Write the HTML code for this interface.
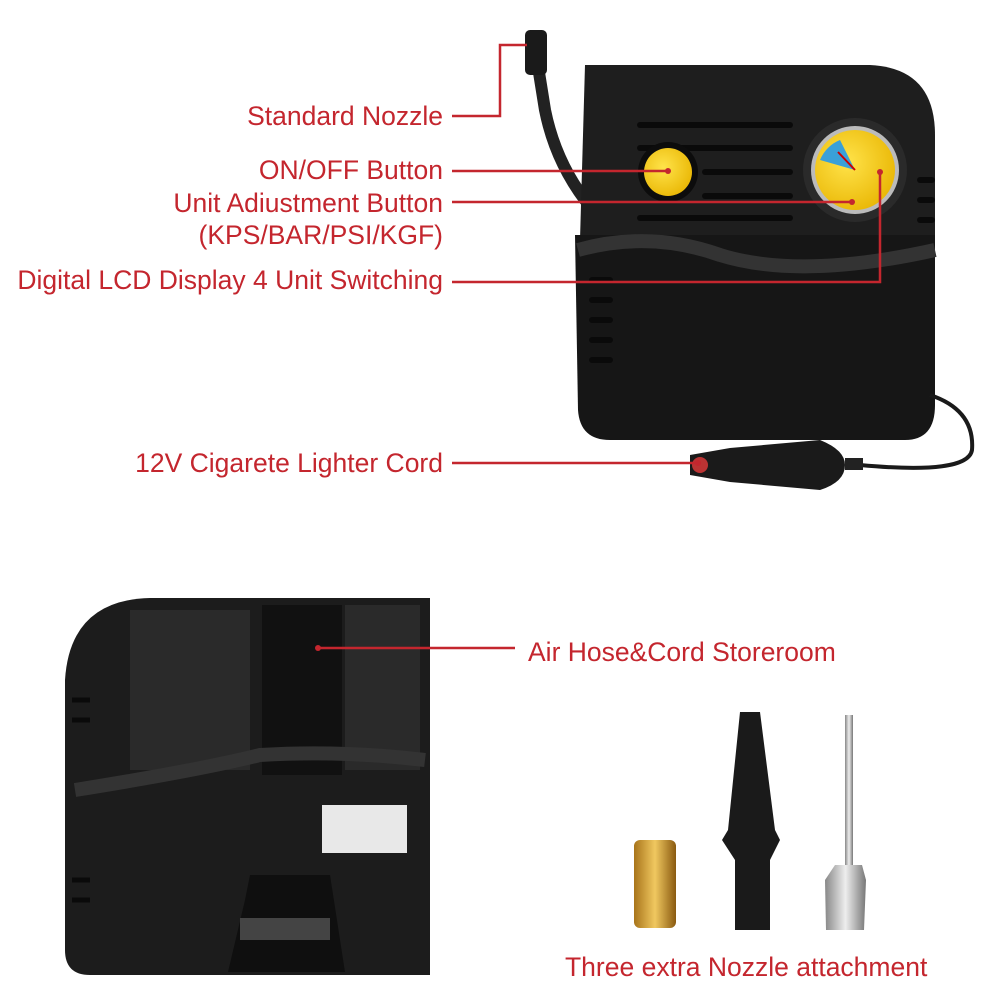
<!DOCTYPE html>
<html><head><meta charset="utf-8"><style>
html,body{margin:0;padding:0;background:#fff;}
svg{display:block;}
text{font-family:"Liberation Sans",sans-serif;fill:#c4262e;font-size:26.5px;}
</style></head><body>
<svg width="1000" height="1000" viewBox="0 0 1000 1000" xmlns="http://www.w3.org/2000/svg">
<defs>
<radialGradient id="y" cx="0.4" cy="0.4" r="0.7"><stop offset="0" stop-color="#ffe34a"/><stop offset="1" stop-color="#e8b400"/></radialGradient>
<linearGradient id="brass" x1="0" x2="1"><stop offset="0" stop-color="#a8741a"/><stop offset="0.5" stop-color="#f0c860"/><stop offset="1" stop-color="#8a5a10"/></linearGradient>
<linearGradient id="met" x1="0" x2="1"><stop offset="0" stop-color="#888"/><stop offset="0.5" stop-color="#eee"/><stop offset="1" stop-color="#777"/></linearGradient>
</defs>
<!-- Top device -->
<path d="M537 60 L545 110 Q555 160 585 200" fill="none" stroke="#222" stroke-width="12" stroke-linecap="round"/>
<rect x="525" y="30" width="22" height="45" rx="5" fill="#1a1a1a"/>
<path d="M585 65 L870 65 Q935 68 935 135 L935 240 L580 240 Z" fill="#1e1e1e"/>
<path d="M575 235 L935 235 L935 405 Q935 440 905 440 L610 440 Q580 440 578 410 Z" fill="#161616"/>
<path d="M578 250 Q650 230 720 255 Q800 280 935 250" fill="none" stroke="#333" stroke-width="14"/>
<g stroke="#0a0a0a" stroke-width="6" stroke-linecap="round">
<line x1="640" y1="125" x2="790" y2="125"/><line x1="640" y1="148" x2="790" y2="148"/>
<line x1="705" y1="172" x2="790" y2="172"/><line x1="705" y1="196" x2="790" y2="196"/>
<line x1="640" y1="218" x2="790" y2="218"/>
<line x1="592" y1="280" x2="610" y2="280"/><line x1="592" y1="300" x2="610" y2="300"/><line x1="592" y1="320" x2="610" y2="320"/><line x1="592" y1="340" x2="610" y2="340"/><line x1="592" y1="360" x2="610" y2="360"/>
<line x1="920" y1="180" x2="932" y2="180"/><line x1="920" y1="200" x2="932" y2="200"/><line x1="920" y1="220" x2="932" y2="220"/>
</g>
<circle cx="668" cy="172" r="30" fill="#0c0c0c"/>
<circle cx="668" cy="172" r="24" fill="url(#y)"/>
<circle cx="855" cy="170" r="52" fill="#2a2a2a"/>
<circle cx="855" cy="170" r="44" fill="#bbb"/>
<circle cx="855" cy="170" r="40" fill="url(#y)"/>
<path d="M820 160 A36 36 0 0 1 840 140 L855 170 Z" fill="#3aa0d8"/>
<line x1="855" y1="170" x2="838" y2="152" stroke="#c00" stroke-width="2"/>
<path d="M930 395 Q975 410 972 450 Q968 475 860 465" fill="none" stroke="#1a1a1a" stroke-width="4"/>
<path d="M690 455 L730 448 L820 440 Q845 450 845 465 Q845 482 820 490 L730 482 L690 475 Z" fill="#1a1a1a"/>
<rect x="845" y="458" width="18" height="12" fill="#222"/>
<circle cx="700" cy="465" r="8" fill="#b33"/>
<!-- Bottom device -->
<path d="M65 680 Q70 600 150 598 L430 598 L430 975 L90 975 Q65 975 65 950 Z" fill="#1c1c1c"/>
<rect x="130" y="610" width="120" height="160" fill="#2a2a2a"/>
<rect x="345" y="605" width="75" height="165" fill="#2a2a2a"/>
<rect x="262" y="605" width="80" height="170" fill="#111"/>
<path d="M75 790 Q200 770 260 755 Q340 750 425 760" fill="none" stroke="#333" stroke-width="14"/>
<rect x="322" y="805" width="85" height="48" fill="#e8e8e8"/>
<path d="M228 972 L245 900 L250 875 L330 875 L345 972 Z" fill="#0f0f0f"/>
<rect x="240" y="918" width="90" height="22" fill="#444"/>
<g stroke="#0a0a0a" stroke-width="5"><line x1="72" y1="700" x2="90" y2="700"/><line x1="72" y1="720" x2="90" y2="720"/><line x1="72" y1="880" x2="90" y2="880"/><line x1="72" y1="900" x2="90" y2="900"/></g>
<!-- Labels -->
<g text-anchor="end">
<text x="443" y="125">Standard Nozzle</text>
<text x="443" y="179">ON/OFF Button</text>
<text x="443" y="212">Unit Adiustment Button</text>
<text x="443" y="244">(KPS/BAR/PSI/KGF)</text>
<text x="443" y="289">Digital LCD Display 4 Unit Switching</text>
<text x="443" y="472">12V Cigarete Lighter Cord</text>
</g>
<g stroke="#c4262e" stroke-width="2.5" fill="none">
<polyline points="452,116 500,116 500,45 527,45"/>
<line x1="452" y1="171" x2="668" y2="171"/>
<line x1="452" y1="202" x2="852" y2="202"/>
<polyline points="452,282 880,282 880,172"/>
<line x1="452" y1="463" x2="698" y2="463"/>
<line x1="318" y1="648" x2="515" y2="648"/>
</g>
<g fill="#c4262e"><circle cx="668" cy="171" r="3"/><circle cx="852" cy="202" r="3"/><circle cx="880" cy="172" r="3"/><circle cx="698" cy="463" r="3"/><circle cx="318" cy="648" r="3"/></g>
<text x="528" y="661">Air Hose&amp;Cord Storeroom</text>
<!-- Nozzles -->
<rect x="634" y="840" width="42" height="88" rx="6" fill="url(#brass)"/>
<path d="M740 712 L760 712 L775 830 L780 840 L770 860 L770 930 L735 930 L735 860 L722 840 L728 830 Z" fill="#1a1a1a"/>
<rect x="845" y="715" width="8" height="150" fill="url(#met)"/>
<path d="M835 865 L862 865 L866 880 L864 930 L826 930 L825 880 Z" fill="url(#met)"/>
<text x="565" y="976">Three extra Nozzle attachment</text>
</svg>
</body></html>
